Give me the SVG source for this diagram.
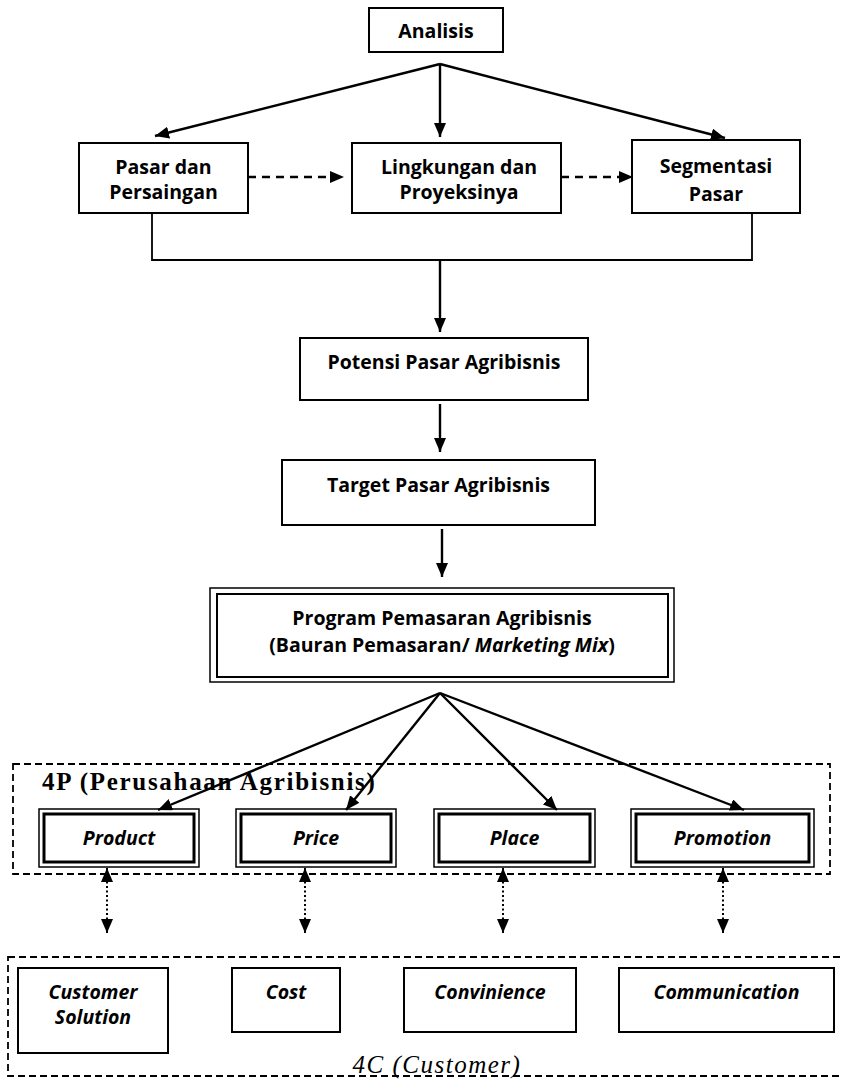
<svg xmlns="http://www.w3.org/2000/svg" width="842" height="1079" viewBox="0 0 842 1079">
<defs>
<marker id="ah" viewBox="0 0 14 12" refX="14" refY="6" markerWidth="14" markerHeight="12" markerUnits="userSpaceOnUse" orient="auto-start-reverse">
<path d="M0,0 L14,6 L0,12 z" fill="#000"/>
</marker>
</defs>
<style>
.box{fill:#fff;stroke:#000;stroke-width:2}
.t{font-family:"Open Sans","Noto Sans","DejaVu Sans",sans-serif;font-weight:bold;font-size:19.5px;text-anchor:middle;fill:#000}
.i{font-style:italic}
.ln{fill:none;stroke:#000;stroke-width:2.4}
.br{fill:none;stroke:#000;stroke-width:1.8}
.da{fill:none;stroke:#000;stroke-width:2.6;stroke-dasharray:8 6}
.dot{fill:none;stroke:#000;stroke-width:2;stroke-dasharray:2 2.5}
.grp{fill:none;stroke:#000;stroke-width:1.8;stroke-dasharray:7 4}
.outer{fill:#fff;stroke:#000;stroke-width:1.5}
.inner{fill:none;stroke:#000;stroke-width:3}
.serif{font-family:"Liberation Serif","Times New Roman",serif;font-size:25px;fill:#000}
</style>

<g id="group-4p">
<rect class="grp" x="13" y="764" width="817" height="110"/>
<text class="serif" x="42" y="790" font-weight="bold" letter-spacing="1.7">4P (Perusahaan Agribisnis)</text>
</g>
<g id="group-4c">
<rect class="grp" x="8" y="957" width="840" height="119"/>
</g>

<g id="analisis">
<rect class="box" x="369" y="8" width="134" height="44"/>
<text class="t" x="436" y="38">Analisis</text>
</g>
<g id="pasar-persaingan">
<rect class="box" x="79" y="143" width="169" height="70"/>
<text class="t" x="163.5" y="174">Pasar dan</text>
<text class="t" x="163.5" y="199">Persaingan</text>
</g>
<g id="lingkungan">
<rect class="box" x="352" y="143" width="209" height="70"/>
<text class="t" x="459" y="174">Lingkungan dan</text>
<text class="t" x="459" y="199">Proyeksinya</text>
</g>
<g id="segmentasi">
<rect class="box" x="632" y="140" width="168" height="73"/>
<text class="t" x="716" y="173" font-size="22">Segmentasi</text>
<text class="t" x="716" y="201" font-size="22">Pasar</text>
</g>
<g id="potensi">
<rect class="box" x="300" y="338" width="288" height="62"/>
<text class="t" x="444" y="369">Potensi Pasar Agribisnis</text>
</g>
<g id="target">
<rect class="box" x="282" y="460" width="313" height="65"/>
<text class="t" x="438.5" y="492">Target Pasar Agribisnis</text>
</g>
<g id="program">
<rect class="outer" x="210" y="588" width="464" height="94" stroke-width="3"/>
<rect class="box" x="217" y="594" width="451" height="83"/>
<text class="t" x="442" y="625">Program Pemasaran Agribisnis</text>
<text class="t" x="442" y="652">(Bauran Pemasaran/ <tspan class="i">Marketing Mix</tspan>)</text>
</g>

<g id="product">
<rect class="outer" x="39" y="809" width="160" height="58"/>
<rect class="inner" x="44" y="814" width="150" height="48"/>
<text class="t i" x="119" y="845">Product</text>
</g>
<g id="price">
<rect class="outer" x="236" y="809" width="160" height="58"/>
<rect class="inner" x="241" y="814" width="150" height="48"/>
<text class="t i" x="316" y="845">Price</text>
</g>
<g id="place">
<rect class="outer" x="434" y="809" width="161" height="58"/>
<rect class="inner" x="439" y="814" width="151" height="48"/>
<text class="t i" x="514.5" y="845">Place</text>
</g>
<g id="promotion">
<rect class="outer" x="631" y="809" width="183" height="58"/>
<rect class="inner" x="636" y="814" width="173" height="48"/>
<text class="t i" x="722.5" y="845">Promotion</text>
</g>

<g id="customer-solution">
<rect class="box" x="18" y="968" width="150" height="85"/>
<text class="t i" x="93" y="999">Customer</text>
<text class="t i" x="93" y="1024">Solution</text>
</g>
<g id="cost">
<rect class="box" x="232" y="968" width="108" height="64"/>
<text class="t i" x="286" y="999">Cost</text>
</g>
<g id="convinience">
<rect class="box" x="404" y="968" width="172" height="64"/>
<text class="t i" x="490" y="999">Convinience</text>
</g>
<g id="communication">
<rect class="box" x="619" y="968" width="215" height="64"/>
<text class="t i" x="726.5" y="999">Communication</text>
</g>
<text class="serif" x="437" y="1073" font-style="italic" text-anchor="middle" letter-spacing="1.5">4C (Customer)</text>

<g id="connectors">
<line class="ln" x1="440" y1="64" x2="155" y2="136" marker-end="url(#ah)"/>
<line class="ln" x1="440" y1="64" x2="440" y2="137" marker-end="url(#ah)"/>
<line class="ln" x1="440" y1="64" x2="725" y2="138" marker-end="url(#ah)"/>
<line class="da" x1="248" y1="177" x2="344" y2="177" marker-end="url(#ah)"/>
<line class="da" x1="561" y1="177" x2="633" y2="177" marker-end="url(#ah)"/>
<polyline class="br" points="152,213 152,260 752,260 752,213"/>
<line class="ln" x1="440" y1="260" x2="440" y2="332" marker-end="url(#ah)"/>
<line class="ln" x1="440" y1="404" x2="440" y2="452" marker-end="url(#ah)"/>
<line class="ln" x1="442" y1="529" x2="442" y2="577" marker-end="url(#ah)"/>
<line class="ln" x1="440" y1="693" x2="158" y2="810" marker-end="url(#ah)"/>
<line class="ln" x1="440" y1="693" x2="346" y2="810" marker-end="url(#ah)"/>
<line class="ln" x1="440" y1="693" x2="557" y2="810" marker-end="url(#ah)"/>
<line class="ln" x1="440" y1="693" x2="744" y2="810" marker-end="url(#ah)"/>
<line class="dot" x1="107" y1="868" x2="107" y2="933" marker-start="url(#ah)" marker-end="url(#ah)"/>
<line class="dot" x1="305" y1="868" x2="305" y2="933" marker-start="url(#ah)" marker-end="url(#ah)"/>
<line class="dot" x1="503" y1="868" x2="503" y2="933" marker-start="url(#ah)" marker-end="url(#ah)"/>
<line class="dot" x1="723" y1="868" x2="723" y2="933" marker-start="url(#ah)" marker-end="url(#ah)"/>
</g>
</svg>
